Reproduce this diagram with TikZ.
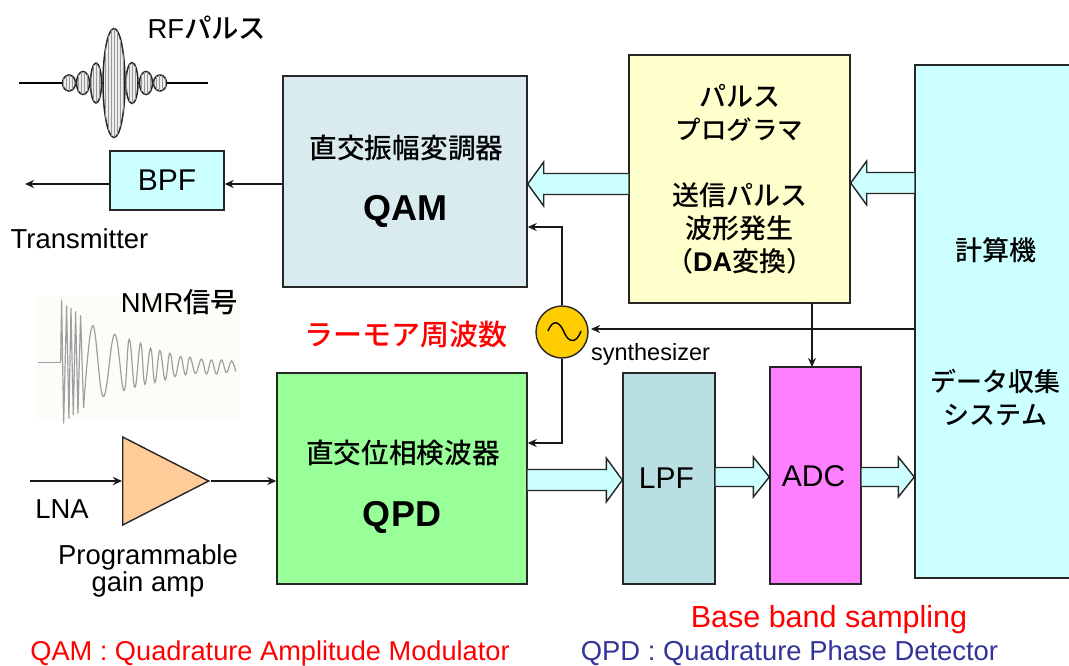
\documentclass[tikz,border=0pt]{standalone}
\usepackage{fontspec}
\setmainfont{Liberation Sans}
\newfontfamily\cjk{Noto Sans CJK JP Medium}
\usetikzlibrary{calc,patterns,arrows.meta,shapes.geometric}
\definecolor{qamblue}{RGB}{218,235,239}
\definecolor{pulseyellow}{RGB}{255,255,204}
\definecolor{compcyan}{RGB}{204,255,255}
\definecolor{qpdgreen}{RGB}{153,255,153}
\definecolor{lpfblue}{RGB}{185,223,227}
\definecolor{adcpink}{RGB}{255,128,255}
\definecolor{synthorange}{RGB}{255,204,0}
\definecolor{ampsalmon}{RGB}{255,204,153}
\definecolor{qpdnavy}{RGB}{51,51,153}
\definecolor{scanpaper}{RGB}{253,252,248}
\tikzset{
  box/.style={draw=black!85,line width=1.4pt,inner sep=0pt},
  wire/.style={draw=black!90,line width=1.5pt,-{Stealth[length=9pt,width=8pt]}},
  blockline/.style={draw=black!85,line width=1.4pt,fill=compcyan,line join=miter},
  lobe/.style={draw=black!85,line width=1.5pt,fill=gray!15,postaction={pattern=vertical lines,pattern color=gray!80}},
  small/.style={font=\fontsize{23.5}{27}\selectfont,inner sep=0pt},
  label/.style={font=\fontsize{27.4}{27}\selectfont,inner sep=0pt,align=center},
  blocktext/.style={font=\fontsize{30}{32}\selectfont,inner sep=0pt},
  jplabel/.style={font=\cjk\fontsize{27}{33}\selectfont,inner sep=0pt,align=center},
  biglabel/.style={font=\bfseries\fontsize{36}{40}\selectfont,inner sep=0pt}
}
\newcommand{\blockarrow}[4]{\draw[blockline] let \p1=#1, \p2=#2, \n1={ifthenelse(\x2>\x1,16pt,-16pt)} in
  (\x1,\y1+#3) -- (\x2-\n1,\y1+#3) -- (\x2-\n1,\y1+#4) -- (\x2,\y1) -- (\x2-\n1,\y1-#4) -- (\x2-\n1,\y1-#3) -- (\x1,\y1-#3);}
\begin{document}
\begin{tikzpicture}[x=1pt,y=-1pt]
\useasboundingbox (0,0) rectangle (1069,666);

% RF pulse
\draw[line width=1.5pt] (19,83) -- (208,83);
\foreach \cx/\rx/\ry in {69/6.5/8,83/6.5/11.5,96/5.5/20,114/11/54.5,132/6/20.5,146/6.5/11.5,160/6.5/8}
  \draw[lobe] (\cx,83) ellipse ({\rx} and {\ry});
\node[label] (rflabel) at (207,28) {RF{\cjk パルス}};

% BPF and transmitter
\node[box,fill=compcyan,minimum width=114,minimum height=59,blocktext] (bpf) at (167,180.5) {BPF};
\coordinate (txout) at (25,184);
\node[label] (txlabel) at (79.5,239) {Transmitter};

% QAM
\node[box,fill=qamblue,minimum width=244,minimum height=211] (qam) at (405,181.5) {};
\node[jplabel,font=\cjk\fontsize{27.7}{33}\selectfont] (qamjp) at (406.5,148) {直交振幅変調器};
\node[biglabel] (qamname) at (405,211) {QAM};

% Pulse programmer
\node[box,fill=pulseyellow,minimum width=221,minimum height=248,jplabel] (pulse) at (739.5,179)
  {パルス\\{\fontsize{25.5}{33}\selectfont プログラマ}\\[33pt]送信パルス\\波形発生\\（{\bfseries\rmfamily DA}変換）};

% Computer
\node[box,fill=compcyan,minimum width=160,minimum height=513] (comp) at (995,321.5) {};
\node[jplabel] (compjp) at (995.5,250) {計算機};
\node[jplabel,font=\cjk\fontsize{26}{33}\selectfont] (dasjp) at (995.5,397.5) {データ収集\\システム};

% Synthesizer
\node[circle,draw=black!85,line width=1.4pt,fill=synthorange,minimum size=52,inner sep=0pt] (synth) at (562,332) {};
\draw[line width=1.4pt] (548,331) .. controls (553,318) and (560,322) .. (564,332) .. controls (568,342) and (576,345) .. (581,331);
\node[small] (synthlabel) at (650.5,354) {synthesizer};
\node[jplabel,font=\cjk\fontsize{29}{33}\selectfont,text=red] (larmor) at (406,335) {ラーモア周波数};

% NMR signal
\fill[scanpaper] (38,296) rectangle (240,420);
\begin{scope}[shift={(20,280)},x=0.333pt,y=-0.333pt]
\draw[gray!75,line width=1.2pt,line join=round] (55,247) -- (122,247);
\draw[gray!75,line width=1.2pt,line join=round] (122,247) -- (125,60) -- (131,430) -- (140,78) -- (147,415) -- (153,85) -- (160,405) -- (167,95) -- (174,400) -- (182,107) -- (191,385);
\draw[gray!75,line width=1.2pt] plot[smooth,tension=0.7] coordinates {(191,385) (218,137) (250,350) (284,163) (312,332) (328,178) (345,322) (362,190) (375,313) (392,205) (405,308) (420,212) (436,300) (450,220) (465,290) (482,230) (497,285) (510,232) (527,280) (545,238) (560,282) (575,240) (590,282) (605,240) (620,278) (635,243) (648,275)};
\end{scope}
\node[label] (nmrlabel) at (179.5,302) {NMR{\cjk 信号}};

% LNA
\node[isosceles triangle,isosceles triangle stretches,draw=black!85,line width=1.4pt,fill=ampsalmon,minimum width=88,minimum height=86,inner sep=0pt,anchor=west] (amp) at (122,481) {};
\coordinate (lnain) at (30,481);
\node[label] (lnalabel) at (62,509) {LNA};
\node[label] (amplabel) at (148,571) {Programmable\\gain amp};

% QPD and filters
\node[box,fill=qpdgreen,minimum width=250,minimum height=211] (qpd) at (402,478.5) {};
\node[jplabel,font=\cjk\fontsize{27.7}{33}\selectfont] (qpdjp) at (403,453) {直交位相検波器};
\node[biglabel] (qpdname) at (402,517) {QPD};
\node[box,fill=lpfblue,minimum width=92,minimum height=211] (lpf) at (669,478.5) {};
\node[blocktext] (lpflabel) at (666.5,478) {LPF};
\node[box,fill=adcpink,minimum width=91,minimum height=217] (adc) at (815.5,475.5) {};
\node[blocktext] (adclabel) at (813.5,476) {ADC};

% Arrows
\draw[wire] (qam.west |- txout) -- (bpf.east |- txout);
\draw[wire] (bpf.west |- txout) -- (txout);
\draw[wire] (synth.north) |- (qam.east |- 0,227);
\draw[wire] (synth.south) |- (qpd.east |- 0,443);
\draw[wire] (comp.west |- 0,329) -- (591,329);
\draw[wire] (812,303) -- (812,367);
\draw[wire] (lnain) -- (amp.west);
\draw[wire] (amp.east) -- (qpd.west |- amp.east);
\blockarrow{(pulse.west |- 0,184)}{(qam.east |- 0,184)}{10.5}{22}
\blockarrow{(comp.west |- 0,183)}{(pulse.east |- 0,183)}{10.5}{22}
\blockarrow{(qpd.east |- 0,480)}{(lpf.west |- 0,480)}{10.5}{22}
\blockarrow{(lpf.east |- 0,477)}{(adc.west |- 0,477)}{9.5}{20}
\blockarrow{(adc.east |- 0,477)}{(comp.west |- 0,477)}{9.5}{20}

% Footer
\node[label,font=\fontsize{30.5}{34}\selectfont,text=red] (bblabel) at (829,620) {Base band sampling};
\node[label,font=\fontsize{27.2}{27}\selectfont,text=red] (qamnote) at (270,653) {QAM : Quadrature Amplitude Modulator};
\node[label,text=qpdnavy] (qpdnote) at (789.5,653) {QPD : Quadrature Phase Detector};
\end{tikzpicture}
\end{document}
